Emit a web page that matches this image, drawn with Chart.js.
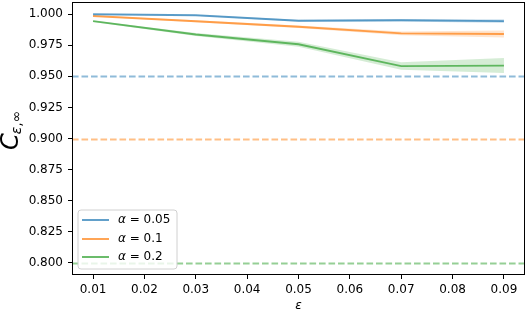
<!DOCTYPE html>
<html><head><meta charset="utf-8">
<script src="https://cdn.jsdelivr.net/npm/chart.js@4/dist/chart.umd.min.js"></script>
<style>html,body{margin:0;padding:0;background:#fff}#wrap{width:528px;height:312px}</style>
</head><body><div id="wrap"><canvas id="c" width="528" height="312"></canvas></div>
<script>
const epsilons = [0.01, 0.03, 0.05, 0.07, 0.09];
const alphaLabels = ['0.05', '0.1', '0.2'];
const cov005 = [0.9998, 0.9990, 0.9946, 0.9950, 0.9943];
const cov01  = [0.9985, 0.9942, 0.9898, 0.9845, 0.9840];
const cov02  = [0.9943, 0.9836, 0.9757, 0.9582, 0.9586];
const err005 = [0.0003, 0.0004, 0.0008, 0.0010, 0.0015];
const err01  = [0.0004, 0.0008, 0.0010, 0.0015, 0.0028];
const err02  = [0.0006, 0.0012, 0.0020, 0.0030, 0.0060];
const targets = [0.95, 0.90, 0.80];
const xTicks = [0.01, 0.02, 0.03, 0.04, 0.05, 0.06, 0.07, 0.08, 0.09];
const yTicks = [0.800, 0.825, 0.850, 0.875, 0.900, 0.925, 0.950, 0.975, 1.000];
const xTitle = 'ε';

const rgb = [[31,119,180],[255,127,14],[44,160,44]];
const col = (i,a) => `rgba(${rgb[i][0]},${rgb[i][1]},${rgb[i][2]},${a})`;
const series = [cov005, cov01, cov02];
const errs = [err005, err01, err02];

const datasets = [];
series.forEach((s, i) => {
  datasets.push({ data: epsilons.map((x,k)=>({x, y: s[k] + errs[i][k]})), borderWidth: 0, pointRadius: 0, fill: false, tension: 0 });
  datasets.push({ data: epsilons.map((x,k)=>({x, y: s[k] - errs[i][k]})), borderWidth: 0, pointRadius: 0, fill: '-1', backgroundColor: col(i,0.2), tension: 0 });
});
series.forEach((s, i) => {
  datasets.push({ data: epsilons.map((x,k)=>({x, y: s[k]})), borderColor: col(i,0.7), borderWidth: 1.9, pointRadius: 0, fill: false, tension: 0 });
});

const FONT = "'DejaVu Sans', sans-serif";

const deco = {
  id: 'deco',
  beforeDatasetsDraw(chart) {
    const {ctx, chartArea: a, scales: {y}} = chart;
    ctx.save();
    ctx.beginPath(); ctx.rect(a.left, a.top, a.right-a.left, a.bottom-a.top); ctx.clip();
    targets.forEach((t, i) => {
      const py = Math.round(y.getPixelForValue(t)) + 0.5;
      ctx.strokeStyle = col(i, 0.5); ctx.lineWidth = 1.8; ctx.setLineDash([6.6, 2.9]);
      ctx.beginPath(); ctx.moveTo(a.left, py); ctx.lineTo(a.right, py); ctx.stroke();
    });
    ctx.restore();
  },
  afterDraw(chart) {
    const {ctx, chartArea: a} = chart;
    ctx.save();
    ctx.strokeStyle = '#000'; ctx.lineWidth = 1; ctx.setLineDash([]);
    ctx.strokeRect(Math.round(a.left)+0.5, Math.round(a.top)+0.5, Math.round(a.right-a.left)-1, Math.round(a.bottom-a.top)-1);
    const bx = 78, by = 210, bw = 99, bh = 59, r = 3;
    ctx.beginPath();
    ctx.moveTo(bx+r, by); ctx.lineTo(bx+bw-r, by); ctx.quadraticCurveTo(bx+bw, by, bx+bw, by+r);
    ctx.lineTo(bx+bw, by+bh-r); ctx.quadraticCurveTo(bx+bw, by+bh, bx+bw-r, by+bh);
    ctx.lineTo(bx+r, by+bh); ctx.quadraticCurveTo(bx, by+bh, bx, by+bh-r);
    ctx.lineTo(bx, by+r); ctx.quadraticCurveTo(bx, by, bx+r, by); ctx.closePath();
    ctx.fillStyle = 'rgba(255,255,255,0.8)'; ctx.fill();
    ctx.strokeStyle = '#d0d0d0'; ctx.lineWidth = 1; ctx.stroke();
    const rows = [220, 239, 257];
    alphaLabels.forEach((lab, i) => {
      const ry = rows[i];
      ctx.strokeStyle = col(i, 0.7); ctx.lineWidth = 2;
      ctx.beginPath(); ctx.moveTo(82, ry); ctx.lineTo(109, ry); ctx.stroke();
      ctx.fillStyle = '#000'; ctx.textBaseline = 'middle'; ctx.textAlign = 'left';
      ctx.font = `italic 12px ${FONT}`;
      ctx.fillText('α', 118, ry);
      const w = ctx.measureText('α').width;
      ctx.font = `12px ${FONT}`;
      ctx.fillText(' = ' + lab, 118 + w, ry);
    });
    // x title
    ctx.fillStyle = '#000'; ctx.textAlign = 'center'; ctx.textBaseline = 'alphabetic';
    ctx.font = `italic 12px ${FONT}`;
    ctx.fillText(xTitle, (a.left + a.right) / 2, 309);
    // y title
    ctx.translate(18, 150);
    ctx.rotate(-Math.PI/2);
    ctx.textAlign = 'left';
    ctx.font = `italic 24px ${FONT}`;
    ctx.fillText('C', 0, 0);
    const cw = ctx.measureText('C').width;
    ctx.font = `italic 14px ${FONT}`;
    ctx.fillText('ε', cw - 1, 3);
    const ew = ctx.measureText('ε').width;
    ctx.font = `14px ${FONT}`;
    ctx.fillText(',∞', cw - 1 + ew, 3);
    ctx.restore();
  }
};

new Chart(document.getElementById('c'), {
  type: 'line',
  data: { datasets },
  options: {
    responsive: false, animation: false, devicePixelRatio: 1,
    layout: { padding: { left: 0, right: 3, top: 2, bottom: 0 } },
    plugins: { legend: { display: false }, tooltip: { enabled: false } },
    scales: {
      x: {
        type: 'linear', min: 0.0059, max: 0.0941,
        afterBuildTicks: s => { s.ticks = xTicks.map(v => ({value: v})); },
        afterFit: s => { s.height = 37; s.paddingLeft = 0; s.paddingRight = 0; },
        border: { display: false },
        grid: { display: true, drawOnChartArea: false, drawTicks: true, tickLength: 4, color: '#000' },
        ticks: { color: '#000', font: { family: FONT, size: 12 }, padding: 4, maxRotation: 0, autoSkip: false,
                 callback: v => v.toFixed(2) }
      },
      y: {
        type: 'linear', min: 0.7903, max: 1.0097,
        afterBuildTicks: s => { s.ticks = yTicks.map(v => ({value: v})); },
        afterFit: s => { s.width = 72; s.paddingTop = 0; s.paddingBottom = 0; },
        border: { display: false },
        grid: { display: true, drawOnChartArea: false, drawTicks: true, tickLength: 4, color: '#000' },
        ticks: { color: '#000', font: { family: FONT, size: 12 }, padding: 5, autoSkip: false,
                 callback: v => v.toFixed(3) }
      }
    }
  },
  plugins: [deco]
});
</script></body></html>
